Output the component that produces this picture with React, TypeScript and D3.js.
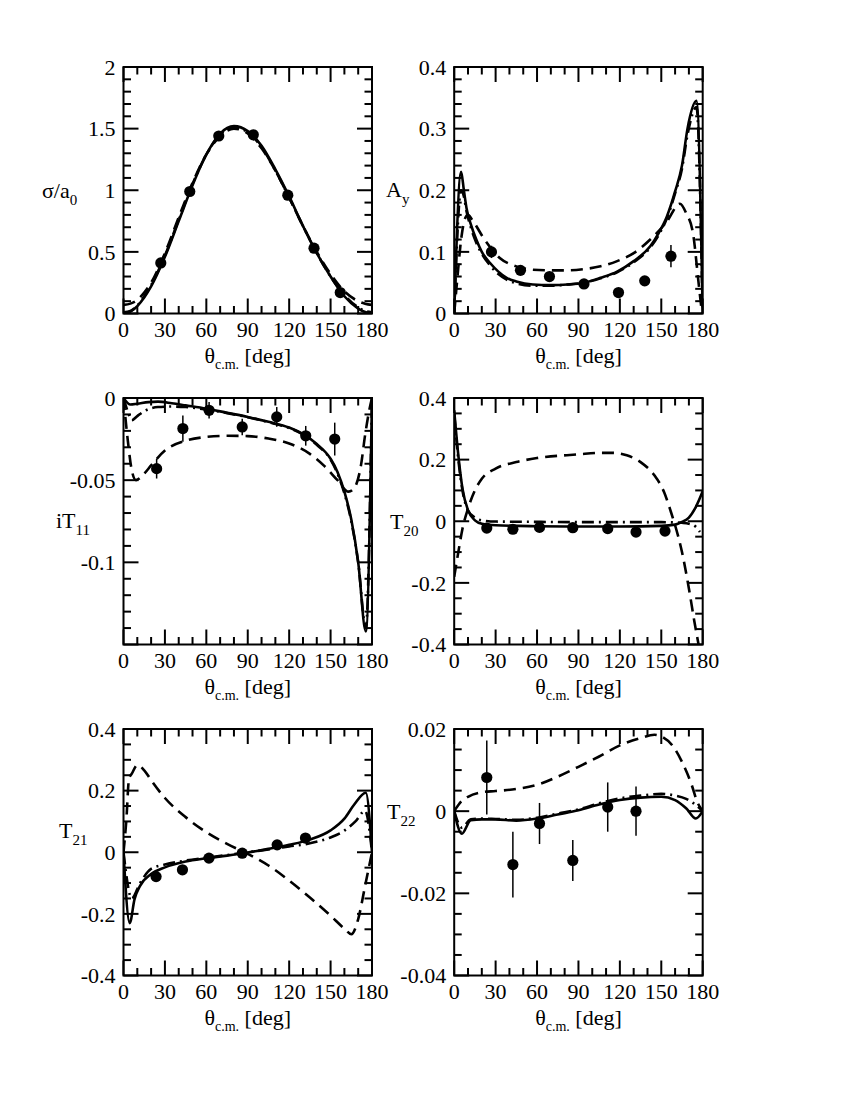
import React from 'react';
import * as d3 from 'd3';

type Pt = [number, number];

// ---------- shared axis data ----------
const xDomain: [number, number] = [0, 180];
const xMajorTicks = [0, 30, 60, 90, 120, 150, 180];
const xMinorStep = 10;

// ---------- Panel 1: sigma / a0 ----------
const sigmaTheta = [27, 48, 69, 94, 119, 138, 157];
const sigmaValues = [0.41, 0.99, 1.44, 1.45, 0.96, 0.53, 0.17];
const sigmaErrors = [0.01, 0.01, 0.01, 0.01, 0.01, 0.01, 0.01];
const sigmaSolid: Pt[] = [[0,0],[5,0.015],[10,0.06],[15,0.13],[20,0.22],[30,0.46],[40,0.75],[50,1.04],[60,1.29],[70,1.46],[80,1.52],[90,1.48],[100,1.36],[110,1.17],[120,0.95],[130,0.71],[140,0.49],[150,0.30],[160,0.14],[170,0.04],[175,0.012],[180,0]];
const sigmaDashed: Pt[] = [[0,0.07],[5,0.08],[10,0.11],[15,0.17],[20,0.25],[30,0.49],[40,0.78],[50,1.06],[60,1.29],[70,1.44],[80,1.50],[90,1.46],[100,1.34],[110,1.16],[120,0.94],[130,0.71],[140,0.50],[150,0.32],[160,0.18],[170,0.10],[175,0.08],[180,0.07]];
const sigmaDashDot: Pt[] = [[0,0.01],[5,0.02],[10,0.065],[15,0.14],[20,0.23],[30,0.47],[40,0.76],[50,1.05],[60,1.29],[70,1.45],[80,1.51],[90,1.47],[100,1.35],[110,1.16],[120,0.94],[130,0.71],[140,0.49],[150,0.30],[160,0.15],[170,0.05],[175,0.02],[180,0.01]];
const sigmaYTicks = [0, 0.5, 1, 1.5, 2];
const sigmaYLabels = ['0', '0.5', '1', '1.5', '2'];

// ---------- Panel 2: Ay ----------
const ayTheta = [27, 48, 69, 94, 119, 138, 157];
const ayValues = [0.100, 0.070, 0.060, 0.048, 0.034, 0.053, 0.093];
const ayErrors = [0.010, 0.008, 0.006, 0.005, 0.005, 0.006, 0.018];
const aySolid: Pt[] = [[0,0],[5,0.23],[7,0.20],[9,0.17],[12,0.145],[16,0.12],[20,0.10],[26,0.082],[32,0.068],[38,0.058],[45,0.052],[57,0.047],[70,0.046],[82,0.047],[94,0.050],[106,0.058],[118,0.068],[130,0.085],[142,0.109],[148,0.13],[154,0.157],[160,0.198],[165,0.24],[169,0.30],[175.5,0.345],[180,0]];
const ayDashDot: Pt[] = [[0,0],[5,0.20],[7,0.19],[9,0.165],[12,0.14],[16,0.115],[20,0.097],[26,0.078],[32,0.064],[38,0.055],[45,0.049],[57,0.045],[70,0.045],[82,0.047],[94,0.050],[106,0.057],[118,0.067],[130,0.083],[142,0.107],[148,0.127],[154,0.154],[160,0.195],[165,0.235],[169,0.29],[175.5,0.335],[180,0]];
const ayDashed: Pt[] = [[0,0],[2,0.05],[5,0.12],[8,0.155],[10,0.16],[13,0.152],[22,0.12],[33,0.09],[45,0.0765],[57,0.071],[70,0.070],[82,0.070],[94,0.072],[106,0.0765],[118,0.085],[130,0.098],[142,0.12],[154,0.149],[163.5,0.178],[168,0.163],[173,0.13],[177,0.05],[179.5,0]];
const ayYTicks = [0, 0.1, 0.2, 0.3, 0.4];
const ayYLabels = ['0', '0.1', '0.2', '0.3', '0.4'];

// ---------- Panel 3: iT11 ----------
const t11Theta = [24, 43, 62, 86, 111, 132, 153];
const t11Values = [-0.043, -0.0186, -0.0075, -0.0176, -0.0115, -0.023, -0.025];
const t11Errors = [0.006, 0.008, 0.005, 0.005, 0.006, 0.006, 0.010];
const t11Solid: Pt[] = [[0,0],[5,-0.004],[10,-0.0035],[18,-0.0025],[25,-0.0022],[35,-0.0032],[45,-0.0045],[60,-0.0065],[75,-0.009],[90,-0.0115],[105,-0.0145],[120,-0.018],[130,-0.022],[140,-0.028],[150,-0.037],[155,-0.045],[160,-0.057],[165,-0.074],[170,-0.1],[175.5,-0.142],[180,0]];
const t11DashDot: Pt[] = [[0,0],[3,-0.008],[6,-0.0135],[10,-0.011],[15,-0.008],[25,-0.0055],[35,-0.0052],[45,-0.0055],[60,-0.007],[75,-0.0092],[90,-0.0117],[105,-0.0147],[120,-0.0183],[130,-0.0222],[140,-0.0285],[150,-0.0375],[155,-0.046],[160,-0.058],[165,-0.075],[170,-0.1],[175.5,-0.14],[180,0]];
const t11Dashed: Pt[] = [[0,0],[3,-0.025],[6,-0.044],[9,-0.050],[15,-0.046],[20,-0.041],[30,-0.032],[45,-0.026],[60,-0.0237],[75,-0.023],[90,-0.0232],[105,-0.0247],[120,-0.0277],[135,-0.034],[145,-0.041],[155,-0.050],[163,-0.057],[167,-0.055],[172,-0.041],[175,-0.0226],[178,-0.0075],[180,0]];
const t11YTicks = [0, -0.05, -0.1, -0.15];
const t11YLabels = ['0', '-0.05', '-0.1', ''];

// ---------- Panel 4: T20 ----------
const t20Theta = [23.6, 42.5, 61.8, 85.9, 111.2, 131.7, 152.7];
const t20Values = [-0.022, -0.026, -0.020, -0.021, -0.024, -0.035, -0.032];
const t20Errors = [0.004, 0.004, 0.004, 0.004, 0.004, 0.004, 0.004];
const t20Solid: Pt[] = [[0,0.36],[3,0.214],[6,0.106],[10,0.036],[15,0.003],[20,-0.008],[30,-0.013],[60,-0.016],[90,-0.017],[120,-0.017],[150,-0.015],[160,-0.011],[165,-0.002],[170,0.012],[175,0.046],[180,0.097]];
const t20DashDot: Pt[] = [[0,0.35],[3,0.2],[6,0.1],[10,0.035],[15,0.012],[20,0.003],[30,-0.001],[60,-0.002],[90,-0.003],[120,-0.003],[150,-0.003],[160,-0.004],[165,-0.005],[170,-0.008],[175,-0.018],[178,-0.035]];
const t20Dashed: Pt[] = [[0,-0.18],[3,-0.1],[6,-0.024],[10,0.041],[15,0.10],[20,0.138],[30,0.171],[45,0.192],[60,0.205],[90,0.217],[105,0.222],[115,0.222],[125,0.214],[135,0.192],[145,0.149],[152,0.095],[157,0.03],[160,-0.013],[165,-0.10],[170,-0.218],[174,-0.326],[177,-0.40],[180,-0.47]];
const t20YTicks = [0.4, 0.2, 0, -0.2, -0.4];
const t20YLabels = ['0.4', '0.2', '0', '-0.2', '-0.4'];

// ---------- Panel 5: T21 ----------
const t21Theta = [23.6, 42.7, 61.9, 86, 111.3, 131.8];
const t21Values = [-0.079, -0.057, -0.019, -0.003, 0.024, 0.046];
const t21Errors = [0.006, 0.006, 0.006, 0.006, 0.006, 0.006];
const t21Solid: Pt[] = [[0,0],[4.5,-0.23],[8,-0.152],[12,-0.109],[20,-0.071],[30,-0.049],[45,-0.030],[60,-0.0196],[75,-0.011],[90,-0.001],[105,0.011],[120,0.024],[135,0.041],[150,0.071],[160,0.109],[167,0.154],[175.5,0.193],[180,0]];
const t21DashDot: Pt[] = [[0,0],[6,-0.15],[12,-0.1],[20,-0.054],[30,-0.04],[45,-0.027],[60,-0.018],[75,-0.009],[90,0.0],[105,0.009],[120,0.019],[135,0.029],[150,0.048],[160,0.07],[168,0.1],[175,0.135],[180,0]];
const t21Dashed: Pt[] = [[0,0],[2,0.1],[4,0.239],[6,0.255],[10,0.283],[15,0.266],[20,0.234],[30,0.176],[45,0.114],[60,0.065],[75,0.027],[90,-0.005],[105,-0.043],[120,-0.092],[135,-0.147],[150,-0.206],[160,-0.248],[165,-0.266],[170,-0.217],[175,-0.109],[180,0]];
const t21YTicks = [0.4, 0.2, 0, -0.2, -0.4];
const t21YLabels = ['0.4', '0.2', '0', '-0.2', '-0.4'];

// ---------- Panel 6: T22 ----------
const t22Theta = [23.6, 42.5, 61.8, 85.9, 111.2, 131.7];
const t22Values = [0.0082, -0.013, -0.003, -0.012, 0.001, 0.0];
const t22Errors = [0.009, 0.008, 0.005, 0.005, 0.006, 0.006];
const t22Solid: Pt[] = [[0,0],[5.5,-0.0055],[12,-0.0022],[20,-0.002],[30,-0.002],[45,-0.0023],[60,-0.0018],[75,-0.0008],[90,0.0002],[105,0.0016],[120,0.0027],[135,0.0033],[150,0.0035],[160,0.0027],[168,0.0007],[175,-0.0018],[180,0]];
const t22DashDot: Pt[] = [[0,0],[5.5,-0.004],[12,-0.002],[20,-0.0018],[30,-0.0019],[45,-0.0021],[60,-0.0016],[75,-0.0006],[90,0.0004],[105,0.0019],[120,0.0031],[135,0.0038],[150,0.0042],[160,0.0038],[168,0.003],[175,0.0015],[180,0]];
const t22Dashed: Pt[] = [[0,0],[5,0.0023],[10,0.0035],[20,0.0046],[30,0.0049],[45,0.0054],[60,0.0064],[75,0.0084],[90,0.0108],[105,0.0133],[120,0.016],[135,0.0178],[145,0.0186],[150,0.0182],[158,0.016],[165,0.012],[172,0.0064],[176,0.0023],[180,0]];
const t22YTicks = [0.02, 0, -0.02, -0.04];
const t22YLabels = ['0.02', '0', '-0.02', '-0.04'];

// ---------- layout ----------
const FONT = 'Liberation Serif, Times New Roman, Times, serif';
const FS = 22;
const SUB = 14;
const PW = 248.5;
const PH = 246.5;
const COLS = [123.5, 454.2];
const ROWS = [67, 398, 729];

type Panel = {
  id: string;
  left: number;
  top: number;
  yDomain: [number, number];
  yTicks: number[];
  yLabels: string[];
  yMinorStep: number;
  label: [string, string];
  labelX: number;
  labelY: number;
  theta: number[];
  values: number[];
  errors: number[];
  solid: Pt[];
  dashed: Pt[];
  dashDot: Pt[];
};

const panels: Panel[] = [
  { id: 'p1', left: COLS[0], top: ROWS[0], yDomain: [0, 2], yTicks: sigmaYTicks, yLabels: sigmaYLabels, yMinorStep: 0.1,
    label: ['σ/a', '0'], labelX: 42, labelY: 190, theta: sigmaTheta, values: sigmaValues, errors: sigmaErrors,
    solid: sigmaSolid, dashed: sigmaDashed, dashDot: sigmaDashDot },
  { id: 'p2', left: COLS[1], top: ROWS[0], yDomain: [0, 0.4], yTicks: ayYTicks, yLabels: ayYLabels, yMinorStep: 0.02,
    label: ['A', 'y'], labelX: 386, labelY: 189, theta: ayTheta, values: ayValues, errors: ayErrors,
    solid: aySolid, dashed: ayDashed, dashDot: ayDashDot },
  { id: 'p3', left: COLS[0], top: ROWS[1], yDomain: [-0.15, 0], yTicks: t11YTicks, yLabels: t11YLabels, yMinorStep: 0.01,
    label: ['iT', '11'], labelX: 56, labelY: 520, theta: t11Theta, values: t11Values, errors: t11Errors,
    solid: t11Solid, dashed: t11Dashed, dashDot: t11DashDot },
  { id: 'p4', left: COLS[1], top: ROWS[1], yDomain: [-0.4, 0.4], yTicks: t20YTicks, yLabels: t20YLabels, yMinorStep: 0.05,
    label: ['T', '20'], labelX: 390, labelY: 521, theta: t20Theta, values: t20Values, errors: t20Errors,
    solid: t20Solid, dashed: t20Dashed, dashDot: t20DashDot },
  { id: 'p5', left: COLS[0], top: ROWS[2], yDomain: [-0.4, 0.4], yTicks: t21YTicks, yLabels: t21YLabels, yMinorStep: 0.05,
    label: ['T', '21'], labelX: 59, labelY: 830, theta: t21Theta, values: t21Values, errors: t21Errors,
    solid: t21Solid, dashed: t21Dashed, dashDot: t21DashDot },
  { id: 'p6', left: COLS[1], top: ROWS[2], yDomain: [-0.04, 0.02], yTicks: t22YTicks, yLabels: t22YLabels, yMinorStep: 0.005,
    label: ['T', '22'], labelX: 387, labelY: 811, theta: t22Theta, values: t22Values, errors: t22Errors,
    solid: t22Solid, dashed: t22Dashed, dashDot: t22DashDot },
];

const MAJ = 15;
const MIN = 7.5;

function minorTicks(d0: number, d1: number, step: number, majors: number[]) {
  const lo = Math.min(d0, d1), hi = Math.max(d0, d1);
  const out: number[] = [];
  const n = Math.round((hi - lo) / step);
  for (let i = 0; i <= n; i++) {
    const v = lo + i * step;
    if (!majors.some((m) => Math.abs(m - v) < step * 1e-3)) out.push(v);
  }
  return out;
}

function PanelView({ p }: { p: Panel }) {
  const x = d3.scaleLinear().domain(xDomain).range([p.left, p.left + PW]);
  const y = d3.scaleLinear().domain(p.yDomain).range([p.top + PH, p.top]);
  const line = d3.line<Pt>().x((d) => x(d[0])).y((d) => y(d[1])).curve(d3.curveMonotoneX);
  const bottom = p.top + PH;
  const right = p.left + PW;
  const xMinor = minorTicks(0, 180, xMinorStep, xMajorTicks);
  const yMinor = minorTicks(p.yDomain[0], p.yDomain[1], p.yMinorStep, p.yTicks);
  const tk = { stroke: '#000', strokeWidth: 2 };
  const txt = { fontFamily: FONT, fontSize: FS };
  return (
    <g>
      <defs>
        <clipPath id={`clip-${p.id}`}>
          <rect x={p.left} y={p.top} width={PW} height={PH} />
        </clipPath>
      </defs>
      {xMajorTicks.map((t) => (
        <g key={`xm${t}`}>
          <line x1={x(t)} x2={x(t)} y1={bottom} y2={bottom - MAJ} {...tk} />
          <line x1={x(t)} x2={x(t)} y1={p.top} y2={p.top + MAJ} {...tk} />
        </g>
      ))}
      {xMinor.map((t) => (
        <g key={`xn${t}`}>
          <line x1={x(t)} x2={x(t)} y1={bottom} y2={bottom - MIN} {...tk} />
          <line x1={x(t)} x2={x(t)} y1={p.top} y2={p.top + MIN} {...tk} />
        </g>
      ))}
      {p.yTicks.map((t) => (
        <g key={`ym${t}`}>
          <line x1={p.left} x2={p.left + MAJ} y1={y(t)} y2={y(t)} {...tk} />
          <line x1={right} x2={right - MAJ} y1={y(t)} y2={y(t)} {...tk} />
        </g>
      ))}
      {yMinor.map((t, i) => (
        <g key={`yn${i}`}>
          <line x1={p.left} x2={p.left + MIN} y1={y(t)} y2={y(t)} {...tk} />
          <line x1={right} x2={right - MIN} y1={y(t)} y2={y(t)} {...tk} />
        </g>
      ))}
      <g clipPath={`url(#clip-${p.id})`} fill="none" stroke="#000" strokeWidth={2.6}>
        <path d={line(p.dashed) || ''} strokeDasharray="12 7" />
        <path d={line(p.dashDot) || ''} strokeDasharray="12 5 2 5" />
        <path d={line(p.solid) || ''} />
      </g>
      {p.theta.map((t, i) => (
        <g key={`d${i}`}>
          <line x1={x(t)} x2={x(t)} y1={y(p.values[i] - p.errors[i])} y2={y(p.values[i] + p.errors[i])} stroke="#000" strokeWidth={1.5} />
          <circle cx={x(t)} cy={y(p.values[i])} r={5.6} fill="#000" />
        </g>
      ))}
      <rect x={p.left} y={p.top} width={PW} height={PH} fill="none" stroke="#000" strokeWidth={2} />
      {xMajorTicks.map((t) => (
        <text key={`xl${t}`} x={x(t)} y={bottom + 23} textAnchor="middle" style={txt}>{String(t)}</text>
      ))}
      {p.yTicks.map((t, i) => (
        <text key={`yl${t}`} x={p.left - 8} y={y(t)} dy="0.35em" textAnchor="end" style={txt}>{p.yLabels[i]}</text>
      ))}
      <text x={(p.left + right) / 2} y={bottom + 49} textAnchor="middle" style={txt}>
        <tspan>θ</tspan>
        <tspan style={{ fontSize: SUB }} dy={6}>c.m.</tspan>
        <tspan dy={-6}>{'\u00a0[deg]'}</tspan>
      </text>
      <text x={p.labelX} y={p.labelY} dy="0.35em" style={txt}>
        <tspan>{p.label[0]}</tspan>
        <tspan style={{ fontSize: SUB + 1 }} dy={7}>{p.label[1]}</tspan>
      </text>
    </g>
  );
}

export default function App() {
  return (
    <svg width={850} height={1100} style={{ position: 'absolute', left: 0, top: 0, background: '#fff' }}>
      <rect x={0} y={0} width={850} height={1100} fill="#fff" />
      {panels.map((p) => (
        <PanelView key={p.id} p={p} />
      ))}
    </svg>
  );
}
